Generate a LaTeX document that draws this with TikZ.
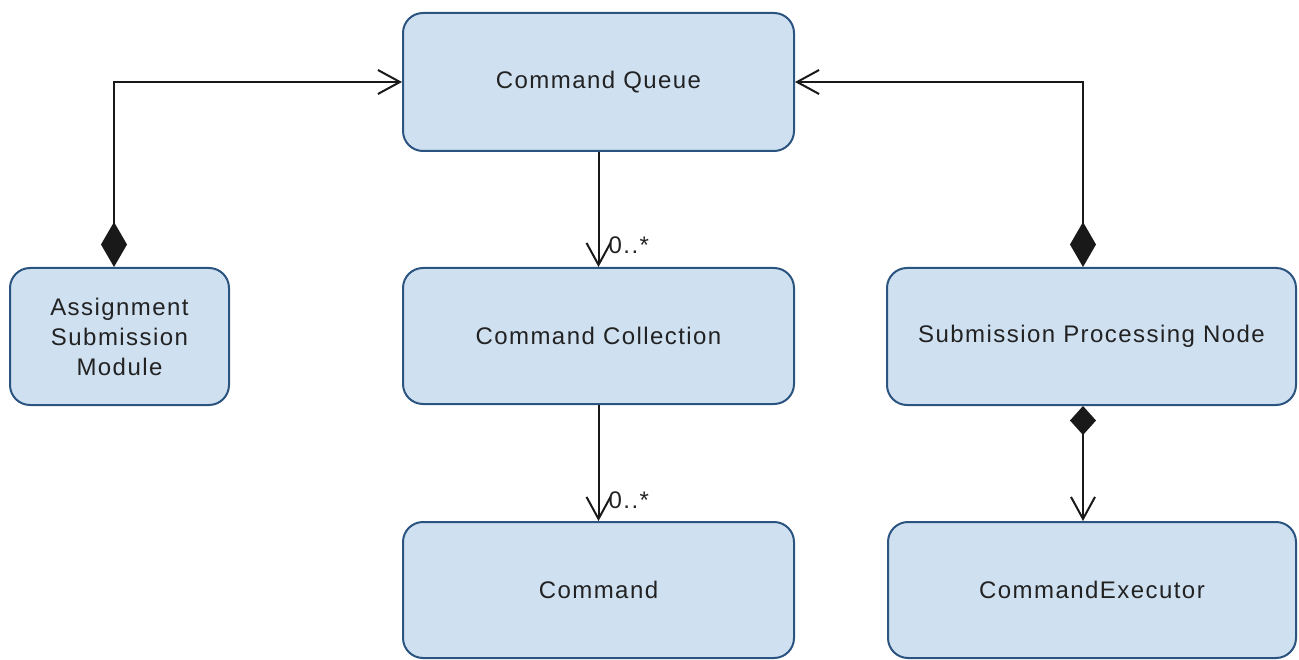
\documentclass[tikz,border=0pt]{standalone}
\usepackage{fontspec}
\setmainfont{Liberation Sans}[LetterSpace=6]
\usetikzlibrary{arrows.meta}
\definecolor{boxfill}{RGB}{207,224,241}
\definecolor{boxline}{RGB}{44,84,128}
\definecolor{txt}{RGB}{34,34,34}
\begin{document}
\begin{tikzpicture}[x=1pt,y=-1pt,
  box/.style={draw=boxline, fill=boxfill, line width=2pt, rounded corners=20pt, text=txt,
    align=center, font=\fontsize{24}{30}\selectfont, inner sep=0pt},
  conn/.style={line width=2pt, draw=black!90},
  lbl/.style={anchor=base west, inner sep=0pt, text=txt, font=\fontsize{24}{30}\selectfont},
  openhead/.tip={Straight Barb[length=22pt,width=24pt]},
  bigdia/.tip={Diamond[length=45pt,width=26pt]},
  smalldia/.tip={Diamond[length=29pt,width=26pt]}]
\useasboundingbox (0,0) rectangle (1299,660);
\node[box, minimum width=391pt, minimum height=138pt] (cq) at (598.5,82) {Command Queue};
\node[box, minimum width=391pt, minimum height=136pt] (cc) at (598.5,336) {Command Collection};
\node[box, minimum width=391pt, minimum height=136pt] (cmd) at (598.5,590) {Command};
\node[box, minimum width=219pt, minimum height=137pt] (asm) at (119.5,336.5) {Assignment\\Submission\\Module};
\node[box, minimum width=409pt, minimum height=137pt] (spn) at (1091.5,336.5) {Submission Processing Node};
\node[box, minimum width=408pt, minimum height=136pt] (ce) at (1092,590) {CommandExecutor};
\draw[conn, bigdia-openhead] ([xshift=-5.5pt]asm.north) |- (cq.west);
\draw[conn, bigdia-openhead] ([xshift=-8.5pt]spn.north) |- (cq.east);
\draw[conn, -openhead] (cq.south) -- (cc.north);
\draw[conn, -openhead] (cc.south) -- (cmd.north);
\draw[conn, smalldia-openhead] ([xshift=-8.5pt]spn.south) -- ([xshift=-9pt]ce.north);
\node[lbl] (m1) at ([xshift=10pt,yshift=13pt]cc.north) {0..*};
\node[lbl] (m2) at ([xshift=10pt,yshift=13pt]cmd.north) {0..*};
\end{tikzpicture}
\end{document}
